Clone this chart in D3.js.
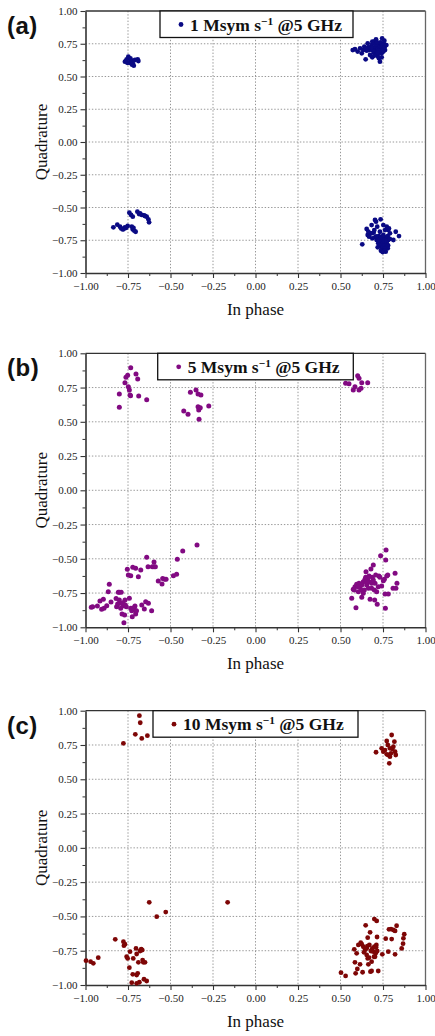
<!DOCTYPE html>
<html>
<head>
<meta charset="utf-8">
<script src="https://cdn.jsdelivr.net/npm/d3@7"></script>
<style>
  html, body { margin: 0; padding: 0; background: #fff; }
  svg { display: block; }
</style>
</head>
<body>
<svg id="chart" width="435" height="1036"></svg>
<script>
// Constellation samples (In phase, Quadrature) for each symbol rate
const iq1 = [
  // upper-left symbol
  [-0.768,0.613],[-0.758,0.631],[-0.748,0.651],[-0.742,0.605],[-0.732,0.621],[-0.722,0.601],[-0.716,0.583],
  [-0.709,0.626],[-0.693,0.631],[-0.689,0.618],[-0.736,0.639],[-0.754,0.605],[-0.760,0.620],[-0.726,0.590],
  // upper-right symbol
  [0.572,0.702],[0.585,0.708],[0.601,0.690],[0.615,0.715],[0.625,0.677],[0.640,0.728],[0.648,0.631],[0.660,0.753],
  [0.668,0.702],[0.674,0.664],[0.683,0.740],[0.687,0.646],[0.693,0.715],[0.699,0.766],[0.703,0.690],[0.709,0.784],
  [0.713,0.672],[0.719,0.728],[0.722,0.753],[0.726,0.639],[0.732,0.613],[0.736,0.702],[0.738,0.733],[0.742,0.677],
  [0.746,0.715],[0.752,0.690],[0.754,0.753],[0.758,0.773],[0.762,0.702],[0.716,0.708],[0.695,0.682],[0.676,0.708],
  [0.654,0.697],[0.634,0.702],[0.728,0.682],[0.709,0.740],[0.687,0.766],[0.742,0.646],[0.719,0.656],[0.700,0.720],
  [0.710,0.700],[0.720,0.710],[0.730,0.725],[0.740,0.720],[0.705,0.745],[0.725,0.695],[0.690,0.700],[0.735,0.760],
  [0.745,0.740],[0.715,0.760],[0.750,0.705],[0.680,0.720],[0.665,0.725],[0.650,0.715],[0.720,0.680],[0.760,0.725],
  [0.700,0.660],[0.745,0.790],[0.770,0.740],
  // lower-left symbol
  [-0.836,-0.651],[-0.813,-0.631],[-0.797,-0.646],[-0.781,-0.667],[-0.768,-0.651],[-0.752,-0.641],[-0.728,-0.646],
  [-0.722,-0.667],[-0.713,-0.677],[-0.742,-0.540],[-0.732,-0.557],[-0.722,-0.570],[-0.695,-0.532],[-0.679,-0.545],
  [-0.669,-0.557],[-0.656,-0.560],[-0.640,-0.570],[-0.630,-0.590],[-0.626,-0.613],[-0.790,-0.660],[-0.775,-0.665],
  [-0.718,-0.655],[-0.705,-0.685],[-0.760,-0.655],[-0.685,-0.550],[-0.650,-0.565],
  // lower-right symbol
  [0.628,-0.781],[0.654,-0.664],[0.660,-0.710],[0.668,-0.723],[0.674,-0.697],[0.683,-0.634],[0.687,-0.735],[0.695,-0.692],
  [0.703,-0.595],[0.709,-0.608],[0.713,-0.748],[0.716,-0.646],[0.722,-0.773],[0.726,-0.718],[0.732,-0.685],[0.736,-0.590],
  [0.738,-0.799],[0.742,-0.748],[0.746,-0.819],[0.752,-0.634],[0.752,-0.786],[0.758,-0.824],[0.762,-0.672],[0.766,-0.728],
  [0.766,-0.837],[0.772,-0.646],[0.772,-0.773],[0.778,-0.811],[0.781,-0.672],[0.781,-0.748],[0.785,-0.660],[0.791,-0.697],
  [0.811,-0.748],[0.825,-0.685],[0.844,-0.718],[0.719,-0.804],[0.732,-0.761],[0.748,-0.723],[0.758,-0.769],[0.703,-0.728],
  [0.683,-0.697],[0.664,-0.685],[0.738,-0.830],[0.772,-0.804],[0.752,-0.710],[0.699,-0.672],[0.728,-0.786],[0.778,-0.718],
  [0.740,-0.780],[0.750,-0.800],[0.760,-0.790],[0.745,-0.760],[0.755,-0.750],[0.765,-0.810],[0.735,-0.740],[0.770,-0.760],
  [0.725,-0.750],[0.760,-0.830],[0.748,-0.840],[0.780,-0.790],[0.710,-0.720],[0.790,-0.740]
];

const iq5 = [
  [-0.801,0.703],[-0.801,0.606],[-0.768,0.785],[-0.762,0.825],[-0.752,0.839],[-0.734,0.895],[-0.748,0.756],
  [-0.742,0.732],[-0.738,0.696],[-0.735,0.690],[-0.703,0.849],[-0.693,0.812],[-0.687,0.688],[-0.640,0.661],
  [-0.422,0.579],[-0.397,0.555],[-0.383,0.715],[-0.350,0.732],[-0.338,0.703],[-0.321,0.696],[-0.338,0.610],
  [-0.334,0.586],[-0.325,0.603],[-0.332,0.518],[-0.275,0.615],
  [0.530,0.781],[0.550,0.778],[0.601,0.836],[0.609,0.817],[0.625,0.785],[0.660,0.785],[0.585,0.756],
  [0.575,0.732],[0.609,0.732],[0.621,0.744],
  [-0.966,-0.854],[-0.958,-0.850],[-0.930,-0.845],[-0.915,-0.808],[-0.905,-0.869],[-0.895,-0.796],[-0.891,-0.861],
  [-0.875,-0.842],[-0.866,-0.740],[-0.860,-0.686],[-0.850,-0.815],[-0.817,-0.850],[-0.811,-0.830],[-0.807,-0.745],
  [-0.801,-0.745],[-0.801,-0.801],[-0.797,-0.825],[-0.793,-0.861],[-0.785,-0.903],[-0.777,-0.842],[-0.770,-0.910],
  [-0.768,-0.801],[-0.766,-0.837],[-0.774,-0.966],[-0.754,-0.577],[-0.742,-0.788],[-0.748,-0.618],[-0.734,-0.623],
  [-0.734,-0.861],[-0.728,-0.879],[-0.725,-0.923],[-0.722,-0.562],[-0.711,-0.874],[-0.709,-0.845],[-0.705,-0.569],
  [-0.705,-0.903],[-0.689,-0.631],[-0.675,-0.582],[-0.669,-0.837],[-0.654,-0.866],[-0.646,-0.813],[-0.640,-0.489],
  [-0.632,-0.558],[-0.630,-0.825],[-0.611,-0.879],[-0.607,-0.558],[-0.597,-0.523],[-0.597,-0.558],[-0.589,-0.558],
  [-0.572,-0.662],[-0.550,-0.684],[-0.546,-0.643],[-0.534,-0.650],[-0.526,-0.650],[-0.483,-0.623],[-0.464,-0.613],
  [-0.460,-0.504],[-0.428,-0.443],[-0.344,-0.399],[-0.820,-0.790],[-0.780,-0.820],[-0.760,-0.850],[-0.720,-0.860],
  [-0.700,-0.880],[-0.790,-0.745],
  [0.566,-0.788],[0.591,-0.857],[0.575,-0.723],[0.585,-0.704],[0.595,-0.686],[0.605,-0.740],[0.609,-0.679],
  [0.615,-0.704],[0.625,-0.781],[0.634,-0.667],[0.640,-0.728],[0.644,-0.650],[0.648,-0.635],[0.650,-0.594],
  [0.654,-0.691],[0.660,-0.643],[0.664,-0.715],[0.668,-0.667],[0.674,-0.796],[0.679,-0.574],[0.683,-0.679],
  [0.687,-0.635],[0.693,-0.545],[0.699,-0.728],[0.701,-0.801],[0.707,-0.618],[0.713,-0.740],[0.716,-0.832],
  [0.722,-0.704],[0.726,-0.626],[0.732,-0.635],[0.736,-0.477],[0.742,-0.699],[0.752,-0.660],[0.758,-0.650],
  [0.762,-0.757],[0.766,-0.509],[0.768,-0.436],[0.772,-0.626],[0.778,-0.618],[0.781,-0.757],[0.809,-0.715],
  [0.821,-0.606],[0.826,-0.715],[0.832,-0.679],[0.764,-0.861],[0.621,-0.728],[0.634,-0.752],[0.605,-0.704],
  [0.581,-0.728],[0.625,-0.691],[0.654,-0.667],[0.683,-0.715],[0.703,-0.679],[0.668,-0.626],[0.693,-0.655]
];

const iq10 = [
  [-0.777,0.762],[-0.707,0.828],[-0.683,0.964],[-0.678,0.912],[-0.669,0.798],[-0.636,0.818],
  [0.709,0.697],[0.742,0.726],[0.752,0.701],[0.762,0.713],[0.772,0.779],[0.778,0.750],[0.781,0.677],[0.787,0.616],
  [0.791,0.665],[0.801,0.823],[0.805,0.721],[0.811,0.738],[0.817,0.774],[0.821,0.701],[0.825,0.677],[0.797,0.689],
  [0.772,0.682],[0.791,0.726],
  [-0.997,-0.823],[-0.970,-0.830],[-0.954,-0.842],[-0.925,-0.801],[-0.825,-0.667],[-0.777,-0.684],[-0.774,-0.713],
  [-0.768,-0.703],[-0.758,-0.794],[-0.752,-0.806],[-0.742,-0.874],[-0.738,-0.757],[-0.728,-0.983],[-0.722,-0.922],
  [-0.719,-0.806],[-0.703,-0.733],[-0.699,-0.774],[-0.699,-0.927],[-0.693,-0.915],[-0.689,-0.835],[-0.683,-0.980],
  [-0.679,-0.752],[-0.672,-0.738],[-0.666,-0.745],[-0.664,-0.818],[-0.660,-0.835],[-0.656,-0.958],[-0.650,-0.835],
  [-0.640,-0.971],[-0.699,-0.988],[-0.625,-0.397],[-0.581,-0.502],[-0.528,-0.468],[-0.164,-0.397],
  [0.503,-0.910],[0.530,-0.934],[0.581,-0.740],[0.585,-0.835],[0.589,-0.915],[0.595,-0.769],[0.599,-0.883],
  [0.615,-0.849],[0.619,-0.692],[0.625,-0.703],[0.630,-0.907],[0.638,-0.762],[0.644,-0.745],[0.648,-0.565],
  [0.654,-0.781],[0.658,-0.716],[0.660,-0.655],[0.664,-0.849],[0.668,-0.801],[0.670,-0.708],[0.674,-0.616],
  [0.676,-0.903],[0.683,-0.898],[0.683,-0.830],[0.687,-0.733],[0.693,-0.757],[0.699,-0.721],[0.699,-0.519],
  [0.703,-0.794],[0.707,-0.769],[0.711,-0.708],[0.713,-0.533],[0.715,-0.650],[0.716,-0.752],[0.722,-0.898],
  [0.746,-0.776],[0.766,-0.662],[0.781,-0.757],[0.785,-0.594],[0.797,-0.592],[0.801,-0.665],[0.811,-0.599],
  [0.821,-0.776],[0.821,-0.606],[0.830,-0.568],[0.860,-0.733],[0.868,-0.699],[0.875,-0.630],[0.870,-0.660],
  [0.605,-0.708],[0.634,-0.721],[0.654,-0.733],[0.679,-0.752],[0.709,-0.725],[0.660,-0.806],[0.697,-0.794]
];

const panelTags = ["(a)", "(b)", "(c)"];
const rateLabels = ["1", "5", "10"];
const seriesColors = ["#0a0a84", "#820a82", "#7e0606"];
const tickValues = [-1, -0.75, -0.5, -0.25, 0, 0.25, 0.5, 0.75, 1];
const minorTickValues = [-0.875, -0.625, -0.375, -0.125, 0.125, 0.375, 0.625, 0.875];
const xTitle = "In phase";
const yTitle = "Quadrature";

const series = [iq1, iq5, iq10];

// layout of the three stacked panels
const layout = [
  { top: 11,    h: 262,   legendX: 160,   legendW: 193, r: 2.4 },
  { top: 353.3, h: 274,   legendX: 157.7, legendW: 195.6, r: 2.5 },
  { top: 710.7, h: 274.3, legendX: 153,   legendW: 205, r: 2.4 }
];
const left = 85.5, right = 425.5;
const serif = "'Liberation Serif', 'Times New Roman', serif";
const fmt = d3.format(".2f");

const svg = d3.select("#chart");
svg.append("rect").attr("width", 435).attr("height", 1036).attr("fill", "#fff");

const x = d3.scaleLinear().domain([-1, 1]).range([left, right]);

series.forEach((pts, i) => {
  const L = layout[i];
  const y = d3.scaleLinear().domain([-1, 1]).range([L.top + L.h, L.top]);
  const g = svg.append("g");

  // dotted grid
  const inner = tickValues.filter(v => v > -1 && v < 1);
  g.append("g").selectAll("line.gx").data(inner).join("line")
    .attr("x1", d => x(d)).attr("x2", d => x(d))
    .attr("y1", L.top).attr("y2", L.top + L.h)
    .attr("stroke", "#8c8c8c").attr("stroke-width", 0.9).attr("stroke-dasharray", "1.4,1.8");
  g.append("g").selectAll("line.gy").data(inner).join("line")
    .attr("y1", d => y(d)).attr("y2", d => y(d))
    .attr("x1", left).attr("x2", right)
    .attr("stroke", "#8c8c8c").attr("stroke-width", 0.9).attr("stroke-dasharray", "1.4,1.8");

  // frame: top and right
  g.append("line").attr("x1", left).attr("x2", right).attr("y1", L.top).attr("y2", L.top)
    .attr("stroke", "#333").attr("stroke-width", 1.3);
  g.append("line").attr("x1", right).attr("x2", right).attr("y1", L.top).attr("y2", L.top + L.h)
    .attr("stroke", "#666").attr("stroke-width", 1.3);

  // axes with major and minor ticks
  const styleAxis = (sel) => {
    sel.attr("font-family", null);
    sel.select(".domain").attr("stroke", "#333").attr("stroke-width", 1.6);
    sel.selectAll(".tick line").attr("stroke", "#333").attr("stroke-width", 1.1);
    sel.selectAll(".tick text").style("font-family", serif).style("font-size", "11px").attr("fill", "#222");
  };
  g.append("g").attr("transform", `translate(0,${L.top + L.h})`)
    .call(d3.axisBottom(x).tickValues(minorTickValues).tickSize(3).tickFormat(""))
    .call(sel => { sel.select(".domain").remove(); sel.selectAll(".tick line").attr("stroke", "#333").attr("stroke-width", 1); });
  g.append("g").attr("transform", `translate(${left},0)`)
    .call(d3.axisLeft(y).tickValues(minorTickValues).tickSize(3).tickFormat(""))
    .call(sel => { sel.select(".domain").remove(); sel.selectAll(".tick line").attr("stroke", "#333").attr("stroke-width", 1); });
  g.append("g").attr("transform", `translate(0,${L.top + L.h})`)
    .call(d3.axisBottom(x).tickValues(tickValues).tickSize(5).tickSizeOuter(0).tickPadding(4).tickFormat(fmt))
    .call(styleAxis);
  g.append("g").attr("transform", `translate(${left},0)`)
    .call(d3.axisLeft(y).tickValues(tickValues).tickSize(5).tickSizeOuter(0).tickPadding(3).tickFormat(fmt))
    .call(styleAxis);

  // axis titles
  g.append("text").attr("x", (left + right) / 2).attr("y", L.top + L.h + 42)
    .attr("text-anchor", "middle").style("font-family", serif).style("font-size", "17px").attr("fill", "#111")
    .text(xTitle);
  g.append("text").attr("transform", `translate(47,${L.top + L.h / 2}) rotate(-90)`)
    .attr("text-anchor", "middle").style("font-family", serif).style("font-size", "17px").attr("fill", "#111")
    .text(yTitle);

  // panel tag
  g.append("text").attr("x", 7).attr("y", L.top + 23)
    .style("font-family", "'Liberation Sans', Arial, sans-serif").attr("font-weight", "bold")
    .style("font-size", "24px").attr("letter-spacing", 0.5).attr("fill", "#111")
    .text(panelTags[i]);

  // constellation points
  g.append("g").selectAll("circle").data(pts).join("circle")
    .attr("cx", d => x(d[0])).attr("cy", d => y(d[1])).attr("r", L.r)
    .attr("fill", seriesColors[i]);

  // legend
  const lg = g.append("g");
  lg.append("rect").attr("x", L.legendX).attr("y", L.top).attr("height", 26.5).attr("width", L.legendW)
    .attr("fill", "#fff").attr("stroke", "#111").attr("stroke-width", 1.3);
  lg.append("circle").attr("cx", L.legendX + 21).attr("cy", L.top + 13.5).attr("r", 2.4)
    .attr("fill", seriesColors[i]);
  const t = lg.append("text").attr("x", L.legendX + 30).attr("y", L.top + 19.5)
    .style("font-family", serif).attr("font-weight", "bold").attr("fill", "#111");
  const main1 = t.append("tspan").text(rateLabels[i] + " Msym s");
  const sup = t.append("tspan").attr("dy", -6).text("\u22121");
  const main2 = t.append("tspan").attr("dy", 6).text(" @5 GHz");
  // size the label so it fills the box up to a small right margin
  const setSize = (fs) => {
    t.style("font-size", fs + "px");
    sup.style("font-size", (fs * 0.65) + "px");
  };
  setSize(16);
  const target = L.legendW - 30 - 9;
  const fs = Math.min(17.5, 16 * target / t.node().getComputedTextLength());
  setSize(fs);
});
</script>
</body>
</html>
